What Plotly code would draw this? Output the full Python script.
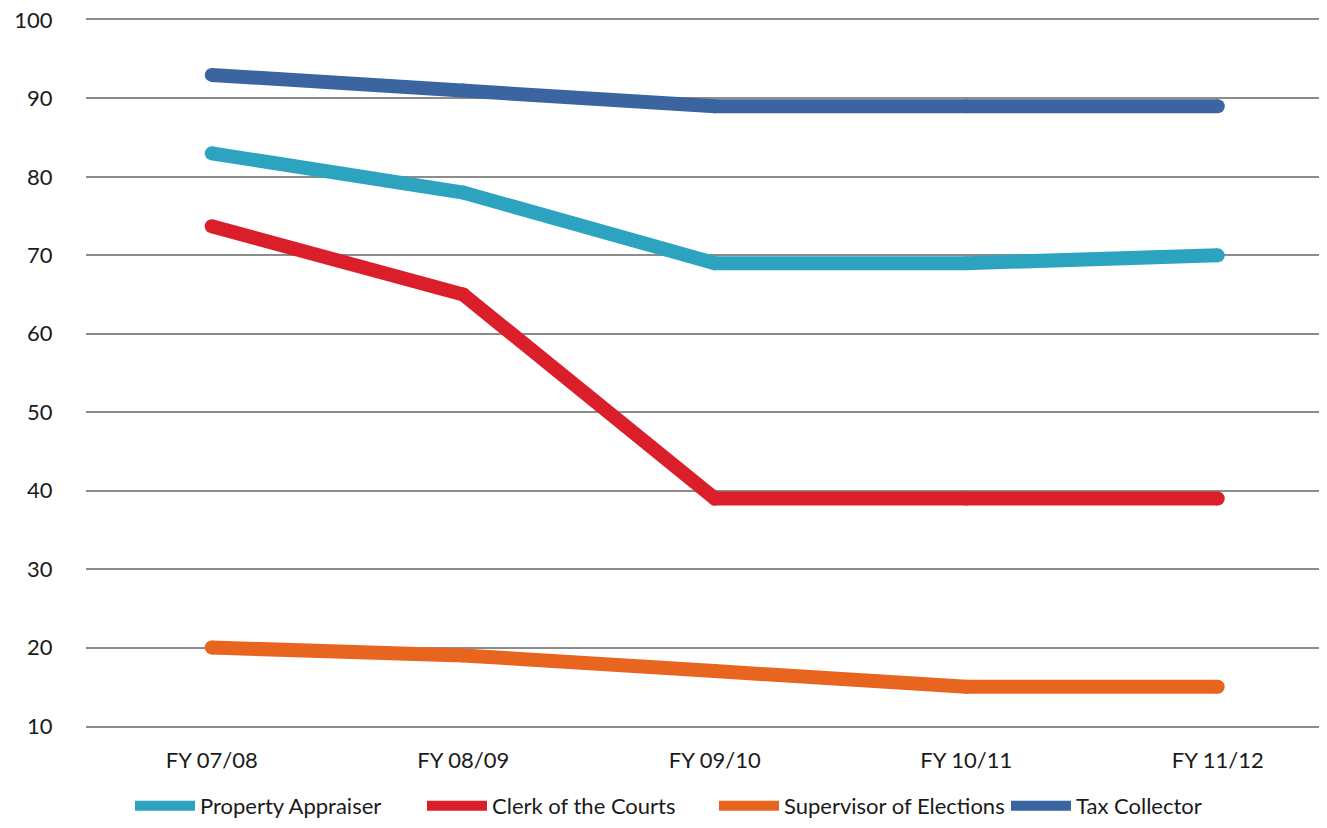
import plotly.graph_objects as go

categories = ["FY 07/08", "FY 08/09", "FY 09/10", "FY 10/11", "FY 11/12"]
property_appraiser = [83, 78, 69, 69, 70]
clerk_of_courts = [73.7, 65, 39, 39, 39]
supervisor_elections = [20, 19, 17, 15, 15]
tax_collector = [93, 91, 89, 89, 89]

series = [
    ("Property Appraiser", property_appraiser, "#2CA4C0"),
    ("Clerk of the Courts", clerk_of_courts, "#DA1F2B"),
    ("Supervisor of Elections", supervisor_elections, "#E8651F"),
    ("Tax Collector", tax_collector, "#3A65A0"),
]

FONT = "Lato, 'Open Sans', sans-serif"
W, H = 1311, 812
ML, MT, MB = 78, 12, 94
fig = go.Figure()
for name, vals, color in series:
    fig.add_trace(go.Scatter(
        x=list(range(len(categories))), y=vals, name=name, mode="lines",
        line=dict(color=color, width=14),
    ))
    fig.add_trace(go.Scatter(
        x=list(range(len(categories))), y=vals, mode="markers", showlegend=False,
        marker=dict(color=color, size=14, line=dict(width=0)), hoverinfo="skip",
    ))

plot_w = W - ML
plot_h = H - MT - MB
fig.update_layout(
    width=W, height=H,
    margin=dict(l=ML, r=0, t=MT, b=MB, autoexpand=False),
    plot_bgcolor="white", paper_bgcolor="white",
    font=dict(family=FONT, size=22, color="#1a1a1a"),
    legend=dict(orientation="h", x=(122 - ML) / plot_w, xanchor="left",
                y=-(MB + 7) / plot_h, yanchor="bottom",
                itemwidth=60, entrywidth=217, entrywidthmode="pixels",
                font=dict(size=22), traceorder="normal",
                bgcolor="rgba(0,0,0,0)"),
    showlegend=True,
)
fig.update_xaxes(
    tickmode="array", tickvals=list(range(len(categories))), ticktext=categories,
    range=[-0.5, -0.5 + plot_w / 251.5], showgrid=False, zeroline=False, automargin=False,
    showline=True, mirror=True, linecolor="#8c8c8c", linewidth=2,
    ticks="outside", ticklen=14, tickcolor="rgba(0,0,0,0)",
)
fig.update_yaxes(
    range=[10, 100], dtick=10, tick0=10, showgrid=True, gridcolor="#8c8c8c", gridwidth=2,
    zeroline=False, showline=False, automargin=False, ticklabeloverflow="allow",
    ticks="outside", ticklen=28, tickcolor="rgba(0,0,0,0)",
)
fig.write_html("out.html")
